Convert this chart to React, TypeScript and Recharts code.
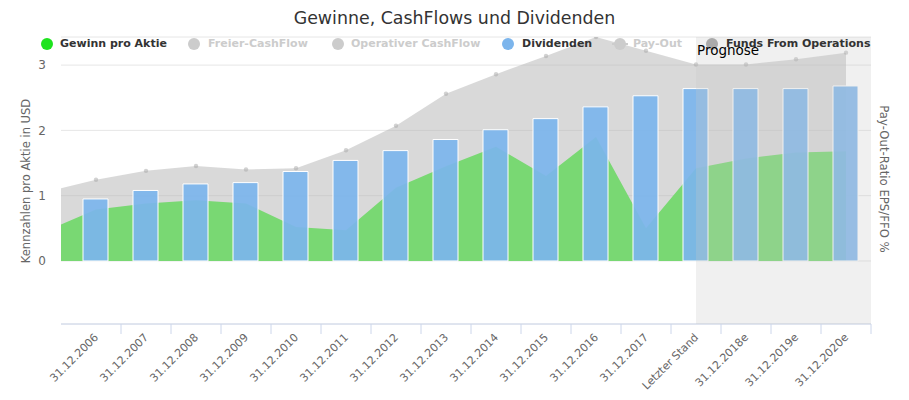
import React from "react";
import {
  Area,
  Bar,
  CartesianGrid,
  ComposedChart,
  ReferenceArea,
  XAxis,
  YAxis,
} from "recharts";

const categories = [
  "31.12.2006",
  "31.12.2007",
  "31.12.2008",
  "31.12.2009",
  "31.12.2010",
  "31.12.2011",
  "31.12.2012",
  "31.12.2013",
  "31.12.2014",
  "31.12.2015",
  "31.12.2016",
  "31.12.2017",
  "Letzter Stand",
  "31.12.2018e",
  "31.12.2019e",
  "31.12.2020e",
];

const gewinnProAktie = [
  0.79, 0.88, 0.93, 0.88, 0.52, 0.47, 1.12, 1.45, 1.75, 1.3, 1.9, 0.5, 1.42,
  1.57, 1.66, 1.68,
];
const dividenden = [
  0.95, 1.08, 1.18, 1.2, 1.37, 1.54, 1.69, 1.86, 2.01, 2.18, 2.36, 2.53, 2.64,
  2.64, 2.64, 2.68,
];
const fundsFromOperations = [
  1.245, 1.38, 1.455, 1.4, 1.42, 1.695, 2.07, 2.56, 2.86, 3.14, 3.43, 3.22,
  3.01, 3.01, 3.09, 3.19,
];

// year before the first label, only its slope shows at the left edge
const vorjahrGewinn = 0.46;
const vorjahrFfo = 1.055;

const yTicks = [0, 1, 2, 3];
const prognoseAb = "Letzter Stand";

const legendItems = [
  { name: "Gewinn pro Aktie", color: "#1ee31e", hidden: false, icon: 47, text: 60 },
  { name: "Freier-CashFlow", color: "#cccccc", hidden: true, icon: 194, text: 208 },
  { name: "Operativer CashFlow", color: "#cccccc", hidden: true, icon: 338, text: 351 },
  { name: "Dividenden", color: "#7cb5ec", hidden: false, icon: 508, text: 522 },
  { name: "Pay-Out", color: "#cccccc", hidden: true, icon: 620, text: 633, line: true },
  { name: "Funds From Operations", color: "#aaaaaa", hidden: false, icon: 712, text: 726 },
];

const FONT = '"DejaVu Sans", sans-serif';
const W = 909;
const H = 400;
const PLOT_TOP = 37;
const PLOT_BOTTOM = 324;
const PLOT_LEFT = 61;
const PLOT_RIGHT = 871;

const data = [
  { i: -1, gewinn: vorjahrGewinn, ffo: vorjahrFfo, div: null },
  ...categories.map((c, i) => ({
    i,
    gewinn: gewinnProAktie[i],
    ffo: fundsFromOperations[i],
    div: dividenden[i],
  })),
];

function CategoryTick(props: any) {
  const { x, payload } = props;
  const label = categories[payload.value];
  const ty = PLOT_BOTTOM + 14;
  const tx = x + 3;
  return (
    <g>
      <line
        x1={x + 25}
        x2={x + 25}
        y1={PLOT_BOTTOM}
        y2={PLOT_BOTTOM + 10}
        stroke="#ccd6eb"
      />
      <text
        x={tx}
        y={ty}
        transform={`rotate(-45 ${tx} ${ty})`}
        textAnchor="end"
        fontSize={11}
        fontFamily={FONT}
        fill="#666666"
      >
        {label}
      </text>
    </g>
  );
}

export default function App() {
  const prognoseIndex = categories.indexOf(prognoseAb);
  return (
    <div
      style={{
        position: "absolute",
        left: 0,
        top: 0,
        width: W,
        height: H,
        background: "#fff",
        fontFamily: FONT,
      }}
    >
      <ComposedChart
        width={W}
        height={H}
        data={data}
        margin={{ top: PLOT_TOP, right: W - PLOT_RIGHT, bottom: 0, left: 0 }}
      >
        <CartesianGrid stroke="#e6e6e6" vertical={false} />
        <XAxis
          dataKey="i"
          type="number"
          domain={[-0.7, 15.5]}
          ticks={categories.map((_, i) => i)}
          interval={0}
          allowDataOverflow
          height={H - PLOT_BOTTOM}
          axisLine={{ stroke: "#ccd6eb" }}
          tickLine={false}
          tick={<CategoryTick />}
        />
        <YAxis
          width={PLOT_LEFT}
          domain={[-0.965, 3.43]}
          ticks={yTicks}
          allowDataOverflow
          axisLine={false}
          tickLine={false}
          tickSize={0}
          tickMargin={15}
          tick={{ fill: "#666666", fontSize: 12, fontFamily: FONT }}
        />
        <Area
          dataKey="ffo"
          type="linear"
          stroke="none"
          fill="rgb(182,182,182)"
          fillOpacity={0.52}
          dot={{ r: 2.2, fill: "#a9a9a9", stroke: "none" }}
          isAnimationActive={false}
        />
        <Area
          dataKey="gewinn"
          type="linear"
          stroke="none"
          fill="#79d873"
          fillOpacity={1}
          dot={false}
          isAnimationActive={false}
        />
        <Bar
          dataKey="div"
          barSize={25}
          fill="#7cb5ec"
          fillOpacity={0.93}
          stroke="#ffffff"
          strokeWidth={1}
          isAnimationActive={false}
        />
        <ReferenceArea
          x1={prognoseIndex}
          x2={15.5}
          fill="rgb(200,200,200)"
          fillOpacity={0.27}
          stroke="none"
          ifOverflow="visible"
          zIndex={1500}
        />
      </ComposedChart>

      <div
        style={{
          position: "absolute",
          left: 0,
          top: 7,
          width: W,
          textAlign: "center",
          fontSize: 17.4,
          color: "#333333",
          lineHeight: "22px",
        }}
      >
        Gewinne, CashFlows und Dividenden
      </div>

      {legendItems.map((it) => (
        <React.Fragment key={it.name}>
          {it.line && (
            <div
              style={{
                position: "absolute",
                left: it.icon - 8,
                top: 43,
                width: 16,
                height: 2,
                background: it.color,
              }}
            />
          )}
          <div
            style={{
              position: "absolute",
              left: it.icon - 6,
              top: 38,
              width: 12,
              height: 12,
              borderRadius: 6,
              background: it.color,
            }}
          />
          <div
            style={{
              position: "absolute",
              left: it.text,
              top: 37,
              lineHeight: "14px",
              fontSize: 11,
              fontWeight: "bold",
              color: it.hidden ? "#cccccc" : "#333333",
              whiteSpace: "nowrap",
            }}
          >
            {it.name}
          </div>
        </React.Fragment>
      ))}

      <div
        style={{
          position: "absolute",
          left: 697,
          top: 42,
          fontSize: 13.5,
          lineHeight: "16px",
          color: "#000000",
          whiteSpace: "nowrap",
        }}
      >
        Prognose
      </div>

      <div
        style={{
          position: "absolute",
          left: 25.5,
          top: (PLOT_TOP + PLOT_BOTTOM) / 2,
          transform: "translate(-50%, -50%) rotate(-90deg)",
          fontSize: 11.5,
          color: "#666666",
          whiteSpace: "nowrap",
        }}
      >
        Kennzahlen pro Aktie in USD
      </div>
      <div
        style={{
          position: "absolute",
          left: 883.5,
          top: 179,
          transform: "translate(-50%, -50%) rotate(90deg)",
          fontSize: 11.7,
          color: "#666666",
          whiteSpace: "nowrap",
        }}
      >
        Pay-Out-Ratio EPS/FFO %
      </div>
    </div>
  );
}
